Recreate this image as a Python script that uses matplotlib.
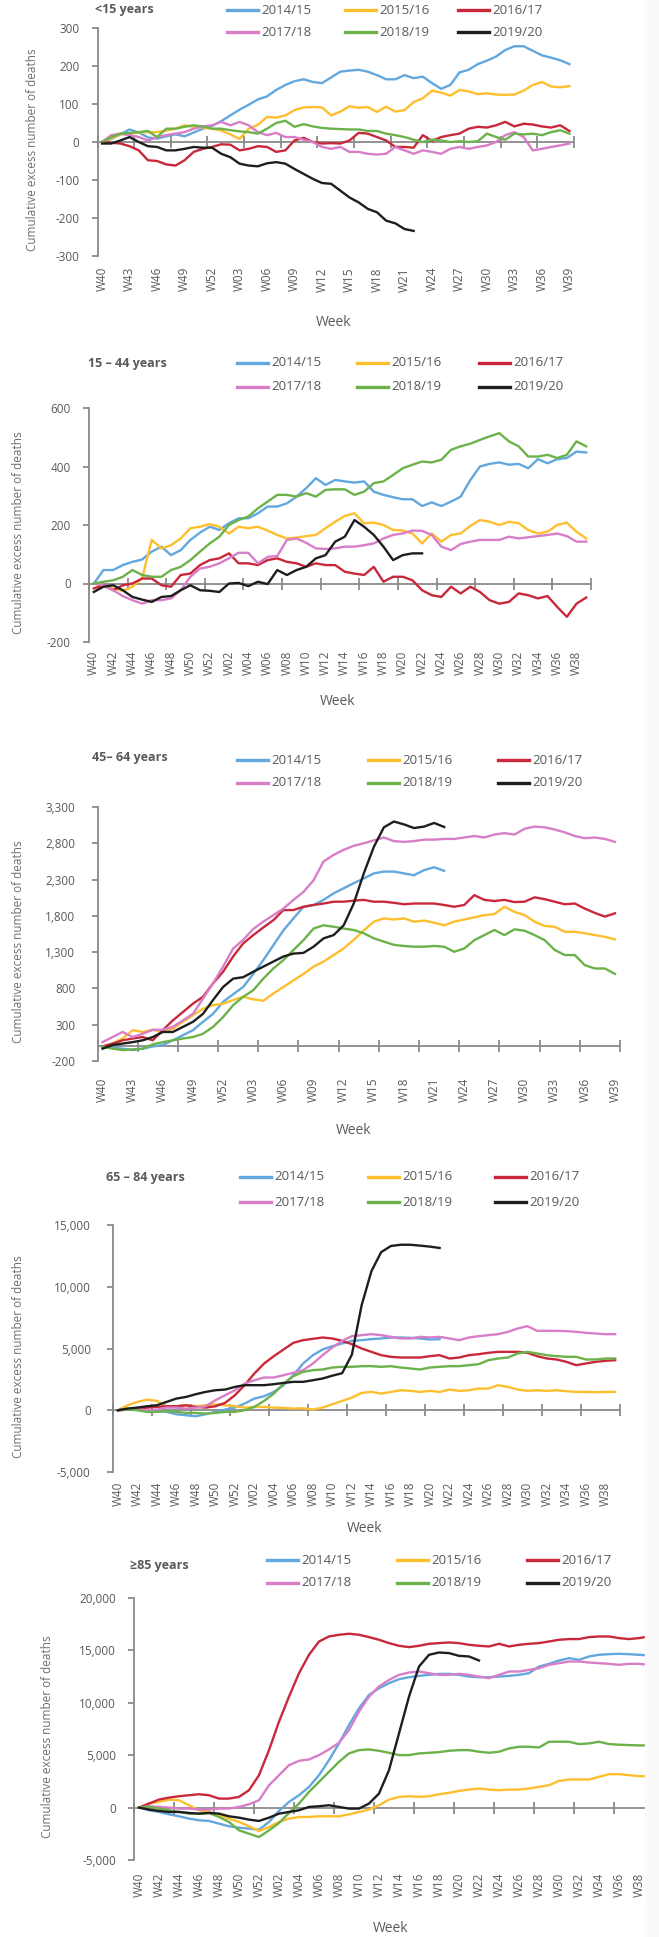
import matplotlib
matplotlib.use("Agg")
import matplotlib.pyplot as plt
from matplotlib.lines import Line2D
from matplotlib.patches import Rectangle
import numpy as np

plt.rcParams['font.family'] = ['Open Sans', 'DejaVu Sans']

# season names and week categories (W40 ... W52, W01 ... W39)
seasons = ['2014/15', '2015/16', '2016/17', '2017/18', '2018/19', '2019/20']
colors = ['#62a7de', '#fdbf2d', '#c9283a', '#d87ec9', '#6cb24a', '#1e1e1e']
weeks = ['W%02d' % w for w in list(range(40, 53)) + list(range(1, 40))]

# <15 years
lt15_1415 = [0, 8, 20, 33, 25, 12, 9, 15, 20, 15, 25, 35, 42, 55, 70, 85, 98, 112, 120, 137,
             150, 160, 165, 158, 155, 170, 185, 188, 190, 185, 176, 165, 165, 176, 168, 172, 155, 140, 150, 183,
             190, 205, 214, 225, 242, 252, 252, 240, 228, 222, 215, 205]
lt15_1516 = [0, 10, 20, 22, 25, 26, 26, 30, 35, 44, 40, 38, 35, 30, 20, 8, 35, 45, 66, 64,
             70, 84, 91, 92, 91, 70, 80, 94, 90, 92, 79, 93, 80, 84, 105, 115, 135, 130, 122, 137,
             133, 126, 128, 125, 124, 125, 135, 150, 158, 146, 144, 147]
lt15_1617 = [0, -2, -4, -11, -22, -48, -50, -59, -62, -48, -26, -18, -13, -6, -7, -22, -18, -11, -13, -26,
             -22, 4, 11, 0, -4, -3, -4, 4, 24, 22, 13, 4, -13, -13, -15, 18, 3, 13, 18, 22,
             35, 40, 38, 44, 53, 41, 48, 46, 41, 38, 44, 29]
lt15_1718 = [0, 18, 22, 18, 13, 4, 13, 18, 22, 26, 35, 41, 44, 53, 44, 53, 44, 26, 18, 24,
             13, 13, 6, 0, -13, -18, -13, -26, -26, -31, -33, -31, -13, -22, -31, -22, -26, -31, -18, -13,
             -18, -13, -9, 0, 18, 26, 13, -22, -18, -13, -9, -4]
lt15_1819 = [0, 13, 22, 24, 26, 29, 13, 35, 35, 40, 44, 41, 35, 35, 31, 28, 26, 22, 35, 50,
             56, 40, 47, 41, 37, 35, 34, 33, 33, 29, 29, 22, 18, 13, 6, 0, 6, 4, 0, 2,
             0, 2, 22, 13, 6, 22, 20, 22, 18, 26, 31, 22]
lt15_1920 = [-4, -4, 4, 13, 0, -11, -13, -22, -22, -18, -13, -15, -15, -31, -40, -57, -62, -64, -56, -53,
             -57, -71, -84, -97, -108, -110, -128, -146, -159, -176, -185, -207, -214, -229, -234]

# 15-44 years
a1544_1415 = [0, 46, 46, 63, 74, 82, 109, 126, 97, 114, 149, 174, 194, 183, 206, 223, 223, 240, 263, 263,
              274, 297, 326, 360, 337, 354, 349, 345, 349, 314, 303, 295, 288, 288, 265, 277, 265, 280, 297, 354,
              400, 409, 414, 406, 409, 394, 425, 411, 425, 429, 451, 448]
a1544_1516 = [0, -11, -17, -25, -11, 17, 149, 120, 131, 154, 189, 194, 203, 194, 171, 194, 189, 194, 181, 166,
              154, 157, 162, 166, 189, 211, 231, 240, 206, 208, 200, 183, 181, 171, 137, 171, 143, 166, 171, 197,
              217, 211, 200, 211, 206, 183, 171, 177, 200, 208, 177, 154]
a1544_1617 = [-17, -6, -23, -6, 0, 17, 17, -6, -11, 29, 34, 63, 80, 86, 103, 69, 69, 63, 80, 86,
              74, 69, 57, 69, 63, 63, 40, 34, 29, 57, 6, 23, 23, 11, -23, -40, -46, -11, -34, -11,
              -29, -57, -69, -63, -34, -40, -51, -43, -80, -114, -69, -48]
a1544_1718 = [0, -6, -23, -43, -57, -69, -57, -57, -51, -23, 23, 51, 57, 69, 86, 105, 105, 69, 91, 94,
              149, 154, 139, 120, 118, 120, 126, 126, 131, 137, 154, 166, 171, 181, 180, 166, 126, 114, 135, 143,
              149, 149, 149, 160, 154, 158, 162, 166, 171, 162, 143, 143]
a1544_1819 = [0, 6, 11, 23, 46, 29, 23, 23, 46, 57, 80, 109, 137, 160, 200, 217, 229, 257, 280, 303,
              303, 297, 309, 297, 320, 322, 322, 303, 314, 343, 349, 371, 394, 406, 417, 414, 423, 457, 469, 478,
              491, 503, 514, 486, 469, 434, 434, 440, 429, 440, 486, 469]
a1544_1920 = [-29, -11, -6, -23, -46, -55, -63, -46, -43, -23, -6, -23, -25, -29, 0, 2, -9, 6, -2, 46,
              29, 46, 57, 86, 97, 143, 160, 217, 194, 166, 126, 80, 97, 103, 103]

# 45-64 years
a4564_1415 = [0, -15, -30, -50, -30, 0, 20, 85, 155, 225, 340, 450, 615, 720, 820, 1000, 1190, 1395, 1600, 1765,
              1925, 1950, 2020, 2110, 2180, 2250, 2315, 2385, 2410, 2410, 2385, 2360, 2430, 2470, 2420]
a4564_1516 = [0, 40, 110, 225, 200, 230, 200, 245, 340, 430, 520, 570, 590, 640, 685, 650, 630, 730, 820, 910,
              1000, 1100, 1170, 1260, 1350, 1470, 1600, 1720, 1765, 1750, 1765, 1720, 1735, 1705, 1670, 1720, 1750, 1780, 1810, 1825,
              1925, 1855, 1810, 1720, 1660, 1650, 1580, 1580, 1560, 1535, 1510, 1475]
a4564_1617 = [0, 40, 85, 110, 130, 85, 225, 360, 475, 590, 685, 870, 1030, 1240, 1420, 1535, 1640, 1740, 1880, 1880,
              1925, 1950, 1970, 1995, 1995, 2010, 2020, 1995, 1995, 1980, 1960, 1970, 1970, 1970, 1950, 1925, 1950, 2085, 2020, 2005,
              2020, 1990, 1995, 2055, 2030, 1995, 1960, 1970, 1900, 1840, 1790, 1835]
a4564_1718 = [60, 130, 200, 130, 175, 230, 230, 270, 360, 450, 660, 870, 1100, 1350, 1470, 1620, 1720, 1810, 1900, 2020,
              2130, 2290, 2550, 2640, 2710, 2765, 2800, 2840, 2880, 2830, 2820, 2830, 2850, 2850, 2860, 2860, 2880, 2900, 2880, 2920,
              2940, 2920, 3000, 3030, 3020, 2990, 2950, 2900, 2870, 2880, 2860, 2820]
a4564_1819 = [0, -30, -50, -40, -30, 30, 60, 85, 110, 130, 175, 270, 405, 570, 685, 775, 935, 1075, 1190, 1330,
              1465, 1625, 1670, 1650, 1625, 1605, 1560, 1490, 1445, 1400, 1385, 1375, 1375, 1385, 1375, 1305, 1350, 1465, 1535, 1605,
              1535, 1615, 1595, 1535, 1465, 1330, 1260, 1260, 1120, 1075, 1075, 1000]
a4564_1920 = [-30, 20, 40, 60, 85, 130, 200, 200, 270, 340, 450, 640, 820, 935, 955, 1030, 1100, 1170, 1240, 1280,
              1290, 1375, 1490, 1535, 1670, 1970, 2385, 2750, 3020, 3100, 3060, 3010, 3030, 3080, 3025]

# 65-84 years
a6584_1415 = [0, 135, 55, 0, -55, -135, -325, -405, -485, -325, -135, 55, 215, 540, 945, 1135, 1485, 2030, 2840, 3785,
              4460, 4920, 5190, 5405, 5620, 5675, 5760, 5810, 5890, 5890, 5865, 5810, 5730, 5760]
a6584_1516 = [0, 405, 675, 865, 755, 325, 325, 405, 325, 405, 485, 405, 325, 215, 270, 270, 215, 190, 135, 160,
              55, 215, 485, 755, 1025, 1405, 1485, 1350, 1485, 1620, 1570, 1485, 1570, 1485, 1675, 1570, 1620, 1755, 1755, 2030,
              1890, 1675, 1570, 1620, 1570, 1620, 1540, 1485, 1485, 1460, 1485, 1485]
a6584_1617 = [0, 55, 135, 215, 270, 325, 325, 405, 270, 215, 325, 595, 1215, 2030, 2975, 3785, 4380, 4920, 5460, 5675,
              5785, 5890, 5810, 5620, 5350, 5000, 4730, 4460, 4325, 4270, 4270, 4270, 4380, 4460, 4190, 4270, 4460, 4540, 4650, 4730,
              4730, 4730, 4650, 4380, 4190, 4110, 3920, 3650, 3785, 3920, 4000, 4055]
a6584_1718 = [0, 55, 55, 0, 55, 215, 215, 135, 215, 325, 810, 1215, 1620, 2160, 2430, 2650, 2650, 2840, 3030, 3245,
              3785, 4460, 5080, 5620, 6000, 6080, 6160, 6080, 5945, 5810, 5810, 5945, 5890, 5945, 5810, 5675, 5890, 6000, 6080, 6160,
              6350, 6620, 6810, 6430, 6430, 6430, 6405, 6350, 6270, 6215, 6160, 6160]
a6584_1819 = [0, 55, 0, -135, -135, -55, -135, -215, -215, -270, -215, -135, -135, 0, 270, 755, 1350, 2160, 2760, 3110,
              3245, 3300, 3460, 3515, 3515, 3570, 3570, 3515, 3570, 3460, 3380, 3300, 3460, 3515, 3570, 3570, 3650, 3730, 4055, 4190,
              4270, 4595, 4730, 4595, 4460, 4380, 4325, 4325, 4110, 4110, 4190, 4190]
a6584_1920 = [0, 135, 215, 325, 405, 675, 945, 1080, 1300, 1485, 1620, 1675, 1890, 2030, 2030, 2030, 2110, 2215, 2300, 2300,
              2430, 2570, 2800, 3000, 4500, 8500, 11250, 12800, 13300, 13400, 13400, 13330, 13250, 13140]

# >=85 years
ge85_1415 = [0, -255, -415, -640, -830, -1050, -1210, -1275, -1530, -1785, -1915, -2010, -2105, -1370, -320, 540, 1180, 1980, 3095, 4530,
             6125, 7880, 9475, 10750, 11390, 11870, 12250, 12440, 12570, 12665, 12760, 12760, 12665, 12505, 12440, 12440, 12505, 12570, 12665, 12825,
             13460, 13720, 14035, 14260, 14100, 14420, 14580, 14640, 14675, 14640, 14580, 14515]
ge85_1516 = [0, 385, 540, 765, 700, 225, -255, -415, -735, -1050, -1370, -1785, -2235, -1850, -1370, -1050, -895, -895, -830, -830,
             -830, -640, -415, -190, 225, 765, 1020, 1085, 1020, 1085, 1275, 1405, 1595, 1720, 1820, 1720, 1660, 1720, 1720, 1820,
             1980, 2135, 2550, 2680, 2680, 2680, 2935, 3190, 3190, 3095, 3000, 3000]
ge85_1617 = [0, 385, 765, 955, 1085, 1180, 1275, 1180, 860, 860, 1020, 1660, 3095, 5485, 8200, 10590, 12825, 14580, 15850, 16330,
             16490, 16590, 16490, 16270, 16015, 15695, 15440, 15310, 15440, 15630, 15695, 15760, 15695, 15535, 15440, 15375, 15630, 15375, 15535, 15630,
             15695, 15850, 16015, 16080, 16080, 16270, 16330, 16330, 16175, 16080, 16175, 16330]
ge85_1718 = [0, 130, 65, 0, -95, -95, -190, -190, -95, -95, 65, 320, 700, 2135, 3095, 4050, 4465, 4595, 5010, 5550,
             6190, 7400, 9155, 10590, 11550, 12185, 12665, 12890, 12985, 12825, 12665, 12665, 12760, 12665, 12505, 12345, 12665, 12985, 12985, 13140,
             13300, 13620, 13780, 13940, 13940, 13845, 13780, 13720, 13620, 13720, 13720, 13620]
ge85_1819 = [0, 65, -95, -255, -415, -575, -575, -510, -895, -1370, -2170, -2490, -2810, -2170, -1470, -510, 385, 1500, 2455, 3415,
             4370, 5170, 5485, 5550, 5420, 5230, 5010, 5010, 5170, 5230, 5295, 5420, 5485, 5485, 5330, 5230, 5330, 5645, 5805, 5805,
             5740, 6285, 6285, 6285, 6060, 6125, 6285, 6060, 6000, 5965, 5935, 5935]
ge85_1920 = [0, -190, -320, -415, -415, -510, -575, -510, -575, -830, -960, -1150, -1275, -960, -575, -415, -255, 65, 130, 225,
             65, -95, -95, 385, 1340, 3575, 7080, 10590, 13460, 14580, 14800, 14740, 14480, 14420, 14035]

W, H = 659, 1937
fig = plt.figure(figsize=(W / 100, H / 100), dpi=100)
grey = '#8a8a8a'
txt = '#595959'


def fx(px):
    return px / W


def fy(py):
    return 1 - py / H


def panel(series, title, ylim, ystep, every, box, title_xy, leg_rows, leg_cols, week_xy, ylab_x, xpad, ypad):
    left, right, top, bottom = box
    ax = fig.add_axes([fx(left), fy(bottom), (right - left) / W, (bottom - top) / H])
    for vals, c in zip(series, colors):
        ax.plot(np.arange(len(vals)), vals, color=c, lw=1.7, zorder=3, solid_joinstyle='round')
    ax.set_xlim(-0.5, 51.5)
    ax.set_ylim(*ylim)
    ax.axhline(0, color=grey, lw=1.3, zorder=2)
    marks = np.arange(-0.5, 52, 4)
    ax.plot(marks, np.zeros_like(marks), ls='none', marker='|', ms=8, mew=1.3, color=grey, zorder=2, clip_on=False)
    for s in ['top', 'right', 'bottom']:
        ax.spines[s].set_visible(False)
    ax.spines['left'].set_color(grey)
    ax.spines['left'].set_linewidth(1.3)
    ax.set_xticks(np.arange(0, 52, every))
    ax.set_xticklabels(weeks[::every], rotation=90, fontsize=8.5, color=txt)
    ax.tick_params(axis='x', length=0, pad=xpad)
    yt = np.arange(ylim[0], ylim[1] + 1, ystep)
    ax.set_yticks(yt)
    ax.set_yticklabels(['{:,}'.format(int(v)) for v in yt], fontsize=8.5, color=txt)
    ax.tick_params(axis='y', length=4, width=1.3, color=grey, pad=ypad)
    ax.patch.set_alpha(0)

    fig.text(fx(title_xy[0]), fy(title_xy[1]), title, fontsize=9, fontweight='bold', color=txt, ha='left', va='center')
    for k, (s, c) in enumerate(zip(seasons, colors)):
        y = leg_rows[k // 3]
        x0 = leg_cols[k % 3]
        fig.add_artist(Line2D([fx(x0), fx(x0 + 31)], [fy(y), fy(y)], transform=fig.transFigure, color=c, lw=2.4))
        fig.text(fx(x0 + 34), fy(y), s, fontsize=9.5, color=txt, ha='left', va='center')
    fig.text(fx(week_xy[0]), fy(week_xy[1]), 'Week', fontsize=10, color=txt, ha='center', va='center')
    fig.text(fx(ylab_x), fy((top + bottom) / 2 + 8), 'Cumulative excess number of deaths', fontsize=8.5,
             color='#6e6e6e', rotation=90, ha='center', va='center')
    return ax


panel([lt15_1415, lt15_1516, lt15_1617, lt15_1718, lt15_1819, lt15_1920], '<15 years',
      (-300, 300), 100, 3, (97.5, 574, 28, 256), (95, 9), (10, 32), (227, 345, 458), (334, 323), 33, 8, 9)
panel([a1544_1415, a1544_1516, a1544_1617, a1544_1718, a1544_1819, a1544_1920], '15 \u2013 44 years',
      (-200, 600), 200, 2, (89, 591, 408, 642), (88, 363), (363, 387), (237, 357, 479), (338, 702), 19, 6, 9)
panel([a4564_1415, a4564_1516, a4564_1617, a4564_1718, a4564_1819, a4564_1920], '45\u2013 64 years',
      (-200, 3300), 500, 3, (97.5, 620, 807, 1061), (92, 757), (760, 783), (237, 368, 498), (354, 1131), 19, 12, 12)
panel([a6584_1415, a6584_1516, a6584_1617, a6584_1718, a6584_1819, a6584_1920], '65 \u2013 84 years',
      (-5000, 15000), 5000, 2, (113, 620, 1225, 1472), (106, 1177), (1177, 1202), (240, 368, 495), (365, 1528), 19, 7, 12)
panel([ge85_1415, ge85_1516, ge85_1617, ge85_1718, ge85_1819, ge85_1920], '\u226585 years',
      (-5000, 20000), 5000, 2, (134, 654, 1598, 1860), (130, 1565), (1560, 1583), (267, 397, 527), (391, 1928), 48, 9, 9)

# the source image is cut off at the right edge of the last panel
fig.add_artist(Rectangle((fx(645), 0), 1 - fx(645), 1, transform=fig.transFigure, color='#fafafa', zorder=20))

fig.savefig('out.png', dpi=100, facecolor='white')
